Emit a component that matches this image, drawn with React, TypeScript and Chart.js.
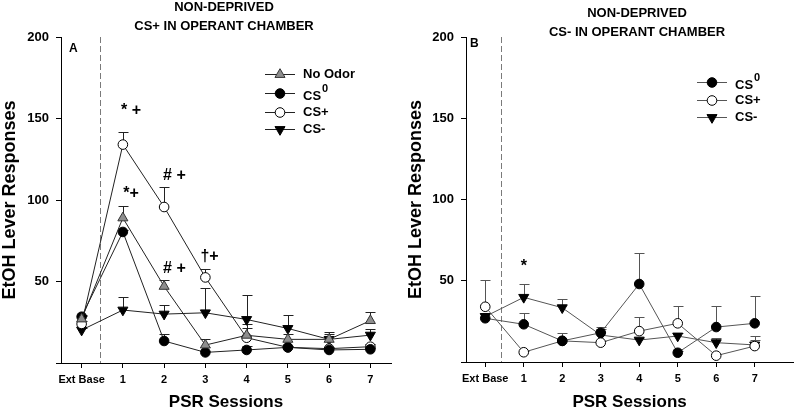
import React, { useEffect, useRef } from 'react';
import { Chart, registerables } from 'chart.js';
import { drawPoint } from 'chart.js/helpers';

Chart.register(...registerables);

const FONT = 'Arial, "Liberation Sans", Helvetica, sans-serif';

// ---------- data ----------
const sessionLabels = ['Ext Base', '1', '2', '3', '4', '5', '6', '7'];
const yTickValues = [0, 50, 100, 150, 200];

// Panel A: CS+ in operant chamber
const aNoOdor = [27, 89, 47, 11, 17, 14.5, 14.5, 26];
const aNoOdorErr = [2, 7.6, 4.1, 4, 4.5, 3, 4.5, 5];
const aCS0 = [28.4, 80.4, 13.5, 6.5, 8, 9.6, 8, 8.4];
const aCS0Err = [1, 1, 4.3, 1, 2.4, 1, 1, 1];
const aCSplus = [24, 134, 95.7, 52.5, 15.5, 9.6, 8.8, 10];
const aCSplusErr = [2, 7.6, 12.3, 4.9, 8.5, 1, 1, 1.5];
const aCSminus = [20.2, 32.5, 30, 30.8, 26.7, 21.2, 14.5, 17.1];
const aCSminusErr = [1, 8.1, 5.5, 15.5, 15, 8.2, 3, 4];

// Panel B: CS- in operant chamber
const bCS0 = [26.9, 23.2, 13, 18, 48, 5.7, 21.5, 23.8];
const bCS0Err = [3, 6.8, 1, 3.7, 19.3, 1, 13.2, 17];
const bCSplus = [34, 6, 13, 11.9, 19, 23.8, 3.9, 9.8];
const bCSplusErr = [16.5, 1, 4.6, 1, 8.9, 10.9, 1, 3.7];
const bCSminus = [28, 39.8, 33.4, 16.6, 13.5, 16, 11.9, 10.5];
const bCSminusErr = [2, 8.2, 5.6, 4, 1, 2, 2.7, 5.5];

// significance marks (x = session index, y = value)
const aMarkText = ['* +', '*+', '# +', '# +', '†+'];
const aMarkX = [1.2, 1.2, 2.25, 2.25, 3.1];
const aMarkY = [155, 104, 115, 58, 65];
const bMarkText = ['*'];
const bMarkX = [1.0];
const bMarkY = [59];

// ---------- styles ----------
type Kind = 'noodor' | 'cs0' | 'csplus' | 'csminus';
const markerStyles: Record<Kind, { pointStyle: string; rotation: number; bg: string; border: string; radius: number }> = {
  noodor: { pointStyle: 'triangle', rotation: 0, bg: '#8e8e8e', border: '#333', radius: 5.8 },
  cs0: { pointStyle: 'circle', rotation: 0, bg: '#000', border: '#000', radius: 4.8 },
  csplus: { pointStyle: 'circle', rotation: 0, bg: '#fff', border: '#000', radius: 4.8 },
  csminus: { pointStyle: 'triangle', rotation: 180, bg: '#000', border: '#000', radius: 5.8 },
};

type SeriesDef = { label: string; sup?: string; kind: Kind; values: number[]; errors: number[] };

type PanelProps = {
  series: SeriesDef[];
  titleLines: string[];
  titleCenterX: number;
  titleY: number[];
  letter: string;
  letterPos: [number, number];
  legendX: number;
  legendY: number[];
  xMax: number;
  dashX: number;
  marks: { text: string[]; x: number[]; y: number[] };
  lineColor: string;
  yAxisWidth: number;
  rightPad: number;
  xAxisHeight: number;
  yTitlePad: number;
};

function Panel(p: PanelProps) {
  const ref = useRef<HTMLCanvasElement>(null);
  useEffect(() => {
    if (!ref.current) return;

    const datasets = p.series.map((s) => {
      const m = markerStyles[s.kind];
      return {
        label: s.label,
        data: s.values.map((v, i) => ({ x: i, y: v })),
        errors: s.errors,
        borderColor: p.lineColor,
        borderWidth: 1,
        pointStyle: m.pointStyle,
        rotation: m.rotation,
        pointRadius: m.radius,
        pointBackgroundColor: m.bg,
        pointBorderColor: m.border,
        pointBorderWidth: 1,
        fill: false,
        tension: 0,
      } as any;
    });

    const errorBars = {
      id: 'errorBars',
      beforeDatasetsDraw(chart: any) {
        const { ctx } = chart;
        const xs = chart.scales.x;
        const ys = chart.scales.y;
        ctx.save();
        ctx.strokeStyle = p.lineColor;
        ctx.lineWidth = 1;
        chart.data.datasets.forEach((ds: any) => {
          ds.data.forEach((pt: any, i: number) => {
            const e = ds.errors[i];
            if (!e) return;
            const px = Math.round(xs.getPixelForValue(pt.x)) + 0.5;
            const y0 = ys.getPixelForValue(pt.y);
            const y1 = Math.round(ys.getPixelForValue(pt.y + e)) + 0.5;
            ctx.beginPath();
            ctx.moveTo(px, y0);
            ctx.lineTo(px, y1);
            ctx.moveTo(px - 5, y1);
            ctx.lineTo(px + 5, y1);
            ctx.stroke();
          });
        });
        ctx.restore();
      },
    };

    const dashLine = {
      id: 'dashLine',
      beforeDatasetsDraw(chart: any) {
        const { ctx, chartArea } = chart;
        const x = Math.round(chart.scales.x.getPixelForValue(p.dashX)) + 0.5;
        ctx.save();
        ctx.strokeStyle = '#7a7a7a';
        ctx.lineWidth = 1;
        ctx.setLineDash([6, 3]);
        ctx.beginPath();
        ctx.moveTo(x, chartArea.top);
        ctx.lineTo(x, chartArea.bottom);
        ctx.stroke();
        ctx.restore();
      },
    };

    const decorations = {
      id: 'decorations',
      afterDraw(chart: any) {
        const { ctx } = chart;
        const xs = chart.scales.x;
        const ys = chart.scales.y;
        ctx.save();
        ctx.fillStyle = '#000';
        // titles
        ctx.font = `bold 13px ${FONT}`;
        ctx.textAlign = 'center';
        ctx.textBaseline = 'middle';
        p.titleLines.forEach((t, i) => ctx.fillText(t, p.titleCenterX, p.titleY[i]));
        // panel letter
        ctx.font = `bold 12px ${FONT}`;
        ctx.textAlign = 'left';
        ctx.fillText(p.letter, p.letterPos[0], p.letterPos[1]);
        // significance marks
        ctx.font = `bold 16px ${FONT}`;
        ctx.textAlign = 'center';
        p.marks.text.forEach((t, i) => {
          ctx.fillText(t, xs.getPixelForValue(p.marks.x[i]), ys.getPixelForValue(p.marks.y[i]));
        });
        // legend
        p.series.forEach((s, i) => {
          const y = p.legendY[i];
          const m = markerStyles[s.kind];
          ctx.strokeStyle = p.lineColor;
          ctx.lineWidth = 1;
          ctx.beginPath();
          ctx.moveTo(p.legendX, y + 0.5);
          ctx.lineTo(p.legendX + 30, y + 0.5);
          ctx.stroke();
          ctx.fillStyle = m.bg;
          ctx.strokeStyle = m.border;
          drawPoint(ctx, { pointStyle: m.pointStyle as any, rotation: m.rotation, radius: m.radius, borderWidth: 1 }, p.legendX + 15, y + 0.5);
          ctx.fillStyle = '#000';
          ctx.font = `bold 13px ${FONT}`;
          ctx.textAlign = 'left';
          ctx.textBaseline = 'middle';
          const tx = p.legendX + 38;
          if (s.sup) {
            ctx.fillText(s.label, tx, y + 3);
            const w = ctx.measureText(s.label).width;
            ctx.font = `bold 11px ${FONT}`;
            ctx.fillText(s.sup, tx + w + 1, y - 4);
          } else {
            ctx.fillText(s.label, tx, y);
          }
        });
        ctx.restore();
      },
    };

    const chart = new Chart(ref.current, {
      type: 'line',
      data: { datasets },
      options: {
        animation: false,
        responsive: false,
        maintainAspectRatio: false,
        layout: { padding: { top: 37, right: p.rightPad, left: 0, bottom: 0 } },
        plugins: { legend: { display: false }, tooltip: { enabled: false }, title: { display: false } },
        scales: {
          x: {
            type: 'linear',
            min: -0.5,
            max: p.xMax,
            afterBuildTicks: (s: any) => {
              s.ticks = sessionLabels.map((_, i) => ({ value: i }));
            },
            afterFit: (s: any) => {
              s.height = p.xAxisHeight;
            },
            ticks: {
              callback: (v: any) => sessionLabels[Math.round(Number(v))] ?? '',
              font: { family: FONT, size: 11, weight: 'bold' },
              color: '#000',
              padding: 5,
              maxRotation: 0,
              autoSkip: false,
            },
            grid: { display: true, drawOnChartArea: false, drawTicks: true, tickLength: 5, color: '#000' },
            border: { display: true, color: '#000', width: 1 },
            title: {
              display: true,
              text: 'PSR Sessions',
              font: { family: FONT, size: 17, weight: 'bold', lineHeight: 1 },
              color: '#000',
              padding: { top: 0, bottom: 0 },
            },
          },
          y: {
            type: 'linear',
            min: 0,
            max: 200,
            afterBuildTicks: (s: any) => {
              s.ticks = yTickValues.map((v) => ({ value: v }));
            },
            afterFit: (s: any) => {
              s.width = p.yAxisWidth;
            },
            ticks: {
              callback: (v: any) => (Number(v) === 0 ? '' : String(v)),
              font: { family: FONT, size: 13, weight: 'bold' },
              color: '#000',
              padding: 7,
            },
            grid: { display: true, drawOnChartArea: false, drawTicks: true, tickLength: 5, color: '#000' },
            border: { display: true, color: '#000', width: 1 },
            title: {
              display: true,
              text: 'EtOH Lever Responses',
              font: { family: FONT, size: 18, weight: 'bold', lineHeight: 1 },
              color: '#000',
              padding: { top: p.yTitlePad, bottom: 0 },
            },
          },
        },
      } as any,
      plugins: [dashLine, errorBars, decorations],
    });
    return () => chart.destroy();
  }, []);
  return <canvas ref={ref} width={400} height={411} style={{ width: 400, height: 411, display: 'block' }} />;
}

export default function App() {
  const seriesA: SeriesDef[] = [
    { label: 'No Odor', kind: 'noodor', values: aNoOdor, errors: aNoOdorErr },
    { label: 'CS', sup: '0', kind: 'cs0', values: aCS0, errors: aCS0Err },
    { label: 'CS+', kind: 'csplus', values: aCSplus, errors: aCSplusErr },
    { label: 'CS-', kind: 'csminus', values: aCSminus, errors: aCSminusErr },
  ];
  const seriesB: SeriesDef[] = [
    { label: 'CS', sup: '0', kind: 'cs0', values: bCS0, errors: bCS0Err },
    { label: 'CS+', kind: 'csplus', values: bCSplus, errors: bCSplusErr },
    { label: 'CS-', kind: 'csminus', values: bCSminus, errors: bCSminusErr },
  ];
  return (
    <div style={{ position: 'absolute', left: 0, top: 0, width: 800, height: 411, background: '#fff' }}>
      <div style={{ position: 'absolute', left: 0, top: 0 }}>
        <Panel
          series={seriesA}
          titleLines={['NON-DEPRIVED', 'CS+ IN OPERANT CHAMBER']}
          titleCenterX={224}
          titleY={[7, 26]}
          letter="A"
          letterPos={[69, 49]}
          legendX={265}
          legendY={[74, 93, 112, 129]}
          xMax={7.5}
          dashX={0.45}
          marks={{ text: aMarkText, x: aMarkX, y: aMarkY }}
          lineColor="#222"
          yAxisWidth={61}
          rightPad={9}
          xAxisHeight={48}
          yTitlePad={1}
        />
      </div>
      <div style={{ position: 'absolute', left: 400, top: 0 }}>
        <Panel
          series={seriesB}
          titleLines={['NON-DEPRIVED', 'CS- IN OPERANT CHAMBER']}
          titleCenterX={237}
          titleY={[13, 32]}
          letter="B"
          letterPos={[70, 44]}
          legendX={297}
          legendY={[82, 100, 117]}
          xMax={8}
          dashX={0.4}
          marks={{ text: bMarkText, x: bMarkX, y: bMarkY }}
          lineColor="#555"
          yAxisWidth={66}
          rightPad={5}
          xAxisHeight={49}
          yTitlePad={7}
        />
      </div>
    </div>
  );
}
